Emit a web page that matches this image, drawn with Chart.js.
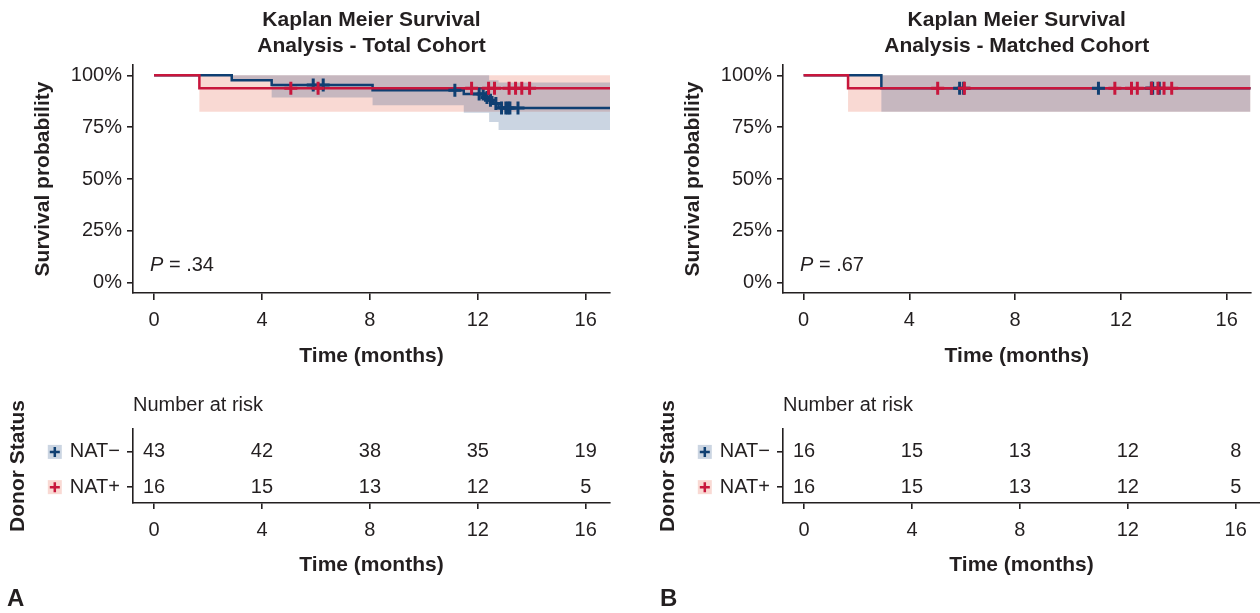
<!DOCTYPE html>
<html>
<head>
<meta charset="utf-8">
<title>Kaplan Meier Survival Analysis</title>
<script src="https://cdn.jsdelivr.net/npm/chart.js@4.4.1/dist/chart.umd.min.js"></script>
<style>
    html, body { margin: 0; padding: 0; background: #fff; }
    #page { position: relative; width: 1260px; height: 613px; overflow: hidden; }
    canvas { position: absolute; }
    #kmA { left: 0; top: 0; }
    #riskA { left: 0; top: 380px; }
    #kmB { left: 650px; top: 0; }
    #riskB { left: 650px; top: 380px; }
</style>
</head>
<body>
<div id="page">
    <canvas id="kmA" width="620" height="380"></canvas>
    <canvas id="riskA" width="620" height="233"></canvas>
    <canvas id="kmB" width="610" height="380"></canvas>
    <canvas id="riskB" width="610" height="233"></canvas>
</div>
<script>
// Ejes
const timeTicks = [0, 4, 8, 12, 16];
const survTicks = [0, 25, 50, 75, 100];
const groups = ['NAT\u2212', 'NAT+'];
const groupRows = [2, 1];

// Cohorte total, NAT- (n = 43)
const totalNegTime = [0, 2.88, 4.36, 8.1, 11.48, 12.27, 12.42, 12.57, 12.77, 18];
const totalNegSurv = [100, 97.7, 95.4, 92.8, 91.0, 89.3, 88.0, 86.4, 84.3, 84.3];
const totalNegCiTime = [0, 2.88, 4.36, 8.1, 11.48, 12.42, 12.77, 18];
const totalNegUpper = [100, 100, 100, 100, 100, 97.6, 96.5, 96.5];
const totalNegLower = [100, 97.7, 89.3, 85.6, 82.0, 77.5, 73.6, 73.6];
const totalNegCensor = [5.9, 6.27, 11.15, 12.05, 12.2, 12.34, 12.47, 12.67, 12.88, 13.04, 13.12, 13.19, 13.49];

// NAT+ (n = 16), igual en ambas cohortes
const natPosTime = [0, 1.68, 18];
const natPosSurv = [100, 93.75, 93.75];
const natPosCiTime = [0, 1.68, 18];
const natPosUpper = [100, 100, 100];
const natPosLower = [100, 82.5, 82.5];
const natPosCensor = [5.07, 6.08, 11.77, 12.4, 12.62, 13.16, 13.4, 13.63, 13.92];

// Cohorte emparejada, NAT- (n = 16)
const matchNegTime = [0, 2.94, 18];
const matchNegSurv = [100, 93.75, 93.75];
const matchNegCiTime = [0, 2.94, 18];
const matchNegUpper = [100, 100, 100];
const matchNegLower = [100, 82.5, 82.5];
const matchNegCensor = [5.9, 6.05, 11.15, 13.15, 13.2, 13.45];

// Numero en riesgo
const riskTimes = [0, 4, 8, 12, 16];
const totalRiskNeg = [43, 42, 38, 35, 19];
const totalRiskPos = [16, 15, 13, 12, 5];
const matchRiskNeg = [16, 15, 13, 12, 8];
const matchRiskPos = [16, 15, 13, 12, 5];

const FONT = "'Liberation Sans', Arial, Helvetica, sans-serif";
const INK = '#231f20';
const BLUE = '#0f3f72';
const RED = '#c8163c';
const BLUE_FILL = 'rgba(16, 64, 125, 0.22)';
const RED_FILL = 'rgba(225, 75, 45, 0.21)';
const X_MIN = -0.78;
const X_MAX = 16.9;

Chart.defaults.font.family = FONT;
Chart.defaults.color = INK;
Chart.defaults.animation = false;

function toPoints(xs, ys) {
    return xs.map((x, i) => ({ x: x, y: ys[i] }));
}

// valor de la curva escalonada en el tiempo t
function survAt(xs, ys, t) {
    let v = ys[0];
    for (let i = 0; i < xs.length; i++) {
        if (xs[i] <= t) v = ys[i];
    }
    return v;
}

function xScale(tickLength, padding, height) {
    return {
        type: 'linear',
        min: X_MIN,
        max: X_MAX,
        afterBuildTicks: s => { s.ticks = timeTicks.map(v => ({ value: v })); },
        afterFit: s => { s.height = height; },
        grid: { drawOnChartArea: false, drawTicks: true, tickLength: tickLength, color: INK, lineWidth: 1.6 },
        border: { color: INK, width: 1.6 },
        ticks: { color: INK, font: { size: 20 }, padding: padding, maxRotation: 0 },
        title: { display: true, text: 'Time (months)', color: INK, font: { size: 21, weight: 'bold' }, padding: { top: 4, bottom: 4 } }
    };
}

// Textos extra: titulo y valor P
const kmText = {
    id: 'kmText',
    afterDraw(chart, args, opts) {
        const ctx = chart.ctx;
        const a = chart.chartArea;
        ctx.save();
        ctx.fillStyle = INK;
        ctx.textBaseline = 'middle';
        ctx.textAlign = 'center';
        ctx.font = 'bold 21px ' + FONT;
        opts.title.forEach((line, i) => {
            ctx.fillText(line, (a.left + a.right) / 2, 20 + i * 26);
        });
        ctx.textAlign = 'left';
        ctx.font = 'italic 20px ' + FONT;
        const px = a.left + 17;
        const py = a.bottom - 28;
        ctx.fillText('P', px, py);
        const w = ctx.measureText('P').width;
        ctx.font = '20px ' + FONT;
        ctx.fillText(' = ' + opts.p, px + w, py);
        ctx.restore();
    }
};

// Textos de la tabla: conteos, "Number at risk", claves y letra del panel
const riskText = {
    id: 'riskText',
    afterDraw(chart, args, opts) {
        const ctx = chart.ctx;
        const a = chart.chartArea;
        ctx.save();
        ctx.fillStyle = INK;
        ctx.textBaseline = 'middle';

        ctx.textAlign = 'center';
        ctx.font = '20px ' + FONT;
        chart.data.datasets.forEach((ds, di) => {
            chart.getDatasetMeta(di).data.forEach((pt, i) => {
                ctx.fillText(String(ds.counts[i]), pt.x, pt.y);
            });
        });

        ctx.textAlign = 'left';
        ctx.fillText('Number at risk', a.left, 25);

        const yS = chart.scales.y;
        const labelRight = a.left - 6 - 7;
        groupRows.forEach((row, gi) => {
            const y = yS.getPixelForValue(row);
            ctx.font = '20px ' + FONT;
            const tw = ctx.measureText(groups[gi]).width;
            const kx = labelRight - tw - 8 - 14;
            ctx.fillStyle = '#fff';
            ctx.fillRect(kx, y - 7, 14, 14);
            ctx.fillStyle = gi === 0 ? BLUE_FILL : RED_FILL;
            ctx.fillRect(kx, y - 7, 14, 14);
            ctx.strokeStyle = gi === 0 ? BLUE : RED;
            ctx.lineWidth = 2.5;
            ctx.beginPath();
            ctx.moveTo(kx + 2, y);
            ctx.lineTo(kx + 12, y);
            ctx.moveTo(kx + 7, y - 5);
            ctx.lineTo(kx + 7, y + 5);
            ctx.stroke();
        });

        ctx.fillStyle = INK;
        ctx.font = 'bold 24px ' + FONT;
        ctx.fillText(opts.letter, opts.letterX, 219);
        ctx.restore();
    }
};

function kmChart(id, o) {
    const band = { stepped: 'before', borderWidth: 0, borderColor: 'transparent', pointRadius: 0 };
    const censor = { showLine: false, pointStyle: 'cross', pointRadius: 6.5, pointBorderWidth: 3, pointHoverRadius: 0 };
    return new Chart(document.getElementById(id), {
        type: 'line',
        data: {
            datasets: [
                Object.assign({ data: o.posCensor.map(t => ({ x: t, y: survAt(o.posTime, o.posSurv, t) })), borderColor: RED }, censor),
                Object.assign({ data: o.negCensor.map(t => ({ x: t, y: survAt(o.negTime, o.negSurv, t) })), borderColor: BLUE }, censor),
                { data: toPoints(o.posTime, o.posSurv), stepped: 'before', borderColor: RED, borderWidth: 2.5, pointRadius: 0, fill: false },
                { data: toPoints(o.negTime, o.negSurv), stepped: 'before', borderColor: BLUE, borderWidth: 2.5, pointRadius: 0, fill: false },
                Object.assign({ data: toPoints(o.negCiTime, o.negUpper), fill: '+1', backgroundColor: BLUE_FILL }, band),
                Object.assign({ data: toPoints(o.negCiTime, o.negLower), fill: false }, band),
                Object.assign({ data: toPoints(o.posCiTime, o.posUpper), fill: '+1', backgroundColor: RED_FILL }, band),
                Object.assign({ data: toPoints(o.posCiTime, o.posLower), fill: false }, band)
            ]
        },
        options: {
            responsive: false,
            animation: false,
            layout: { padding: { left: 27, top: 65, right: o.padRight, bottom: 7 } },
            plugins: {
                legend: { display: false },
                tooltip: { enabled: false },
                kmText: { title: o.title, p: o.p }
            },
            scales: {
                x: xScale(7, 8, 80),
                y: {
                    type: 'linear',
                    min: -5,
                    max: 105,
                    afterBuildTicks: s => { s.ticks = survTicks.map(v => ({ value: v })); },
                    afterFit: s => { s.width = 106; },
                    grid: { drawOnChartArea: false, drawTicks: true, tickLength: 6, color: INK, lineWidth: 1.6 },
                    border: { color: INK, width: 1.6 },
                    ticks: { color: INK, font: { size: 20 }, padding: 5, callback: v => v + '%' },
                    title: { display: true, text: 'Survival probability', color: INK, font: { size: 21, weight: 'bold' }, padding: { top: 4, bottom: 4 } }
                }
            }
        },
        plugins: [kmText]
    });
}

function riskChart(id, o) {
    return new Chart(document.getElementById(id), {
        type: 'line',
        data: {
            datasets: [
                { data: riskTimes.map(t => ({ x: t, y: groupRows[0] })), counts: o.neg, showLine: false, pointRadius: 0 },
                { data: riskTimes.map(t => ({ x: t, y: groupRows[1] })), counts: o.pos, showLine: false, pointRadius: 0 }
            ]
        },
        options: {
            responsive: false,
            animation: false,
            layout: { padding: { left: 2, top: 49, right: o.padRight, bottom: 31 } },
            plugins: {
                legend: { display: false },
                tooltip: { enabled: false },
                riskText: { letter: o.letter, letterX: o.letterX }
            },
            scales: {
                x: xScale(6, 9, 79),
                y: {
                    type: 'linear',
                    min: 0.55,
                    max: 2.65,
                    afterBuildTicks: s => { s.ticks = groupRows.map(v => ({ value: v })); },
                    afterFit: s => { s.width = 131; },
                    grid: { drawOnChartArea: false, drawTicks: true, tickLength: 6, color: INK, lineWidth: 1.6 },
                    border: { color: INK, width: 1.6 },
                    ticks: { color: INK, font: { size: 20 }, padding: 7, callback: v => groups[groupRows.indexOf(v)] },
                    title: { display: true, text: 'Donor Status', color: INK, font: { size: 21, weight: 'bold' }, padding: { top: 4, bottom: 4 } }
                }
            }
        },
        plugins: [riskText]
    });
}

document.addEventListener('DOMContentLoaded', function() {
    kmChart('kmA', {
        title: ['Kaplan Meier Survival', 'Analysis - Total Cohort'], p: '.34', padRight: 10,
        negTime: totalNegTime, negSurv: totalNegSurv, negCiTime: totalNegCiTime,
        negUpper: totalNegUpper, negLower: totalNegLower, negCensor: totalNegCensor,
        posTime: natPosTime, posSurv: natPosSurv, posCiTime: natPosCiTime,
        posUpper: natPosUpper, posLower: natPosLower, posCensor: natPosCensor
    });
    kmChart('kmB', {
        title: ['Kaplan Meier Survival', 'Analysis - Matched Cohort'], p: '.67', padRight: 0,
        negTime: matchNegTime, negSurv: matchNegSurv, negCiTime: matchNegCiTime,
        negUpper: matchNegUpper, negLower: matchNegLower, negCensor: matchNegCensor,
        posTime: natPosTime, posSurv: natPosSurv, posCiTime: natPosCiTime,
        posUpper: natPosUpper, posLower: natPosLower, posCensor: natPosCensor
    });
    riskChart('riskA', { neg: totalRiskNeg, pos: totalRiskPos, padRight: 10, letter: 'A', letterX: 7 });
    riskChart('riskB', { neg: matchRiskNeg, pos: matchRiskPos, padRight: 0, letter: 'B', letterX: 10 });
});
</script>
</body>
</html>
